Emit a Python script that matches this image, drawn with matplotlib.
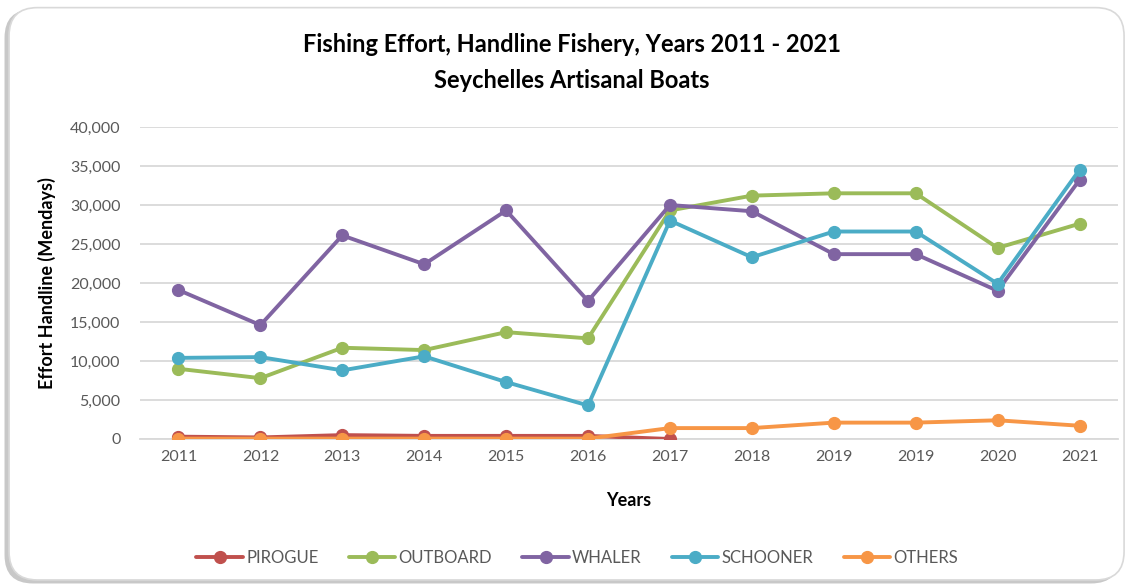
import numpy as np
import matplotlib
matplotlib.use("Agg")
import matplotlib.pyplot as plt
from matplotlib.patches import FancyBboxPatch
from matplotlib.ticker import FuncFormatter, MultipleLocator

plt.rcParams['font.family'] = ['Lato', 'DejaVu Sans']

years = ["2011", "2012", "2013", "2014", "2015", "2016", "2017", "2018", "2019", "2019", "2020", "2021"]
nan = np.nan
pirogue = [300, 200, 500, 400, 400, 400, 0, nan, nan, nan, nan, nan]
outboard = [9000, 7800, 11700, 11400, 13700, 12900, 29300, 31200, 31500, 31500, 24500, 27600]
whaler = [19100, 14600, 26100, 22400, 29300, 17700, 30000, 29200, 23700, 23700, 19000, 33200]
schooner = [10400, 10500, 8800, 10600, 7300, 4300, 28000, 23300, 26600, 26600, 19900, 34500]
others = [50, 50, 50, 50, 50, 50, 1400, 1400, 2100, 2100, 2400, 1700]

series = [("PIROGUE", pirogue, "#C0504D"),
          ("OUTBOARD", outboard, "#9BBB59"),
          ("WHALER", whaler, "#8064A2"),
          ("SCHOONER", schooner, "#4BACC6"),
          ("OTHERS", others, "#F79646")]

fig = plt.figure(figsize=(11.32, 5.87), dpi=100)
# rounded frame with shadow
shadow = FancyBboxPatch((0.004, 0.006), 0.985, 0.978, boxstyle="round,pad=0,rounding_size=0.025",
                        transform=fig.transFigure, facecolor="#C8C8C8", edgecolor="none",
                        mutation_aspect=1132/587, zorder=0)
frame = FancyBboxPatch((0.008, 0.012), 0.985, 0.975, boxstyle="round,pad=0,rounding_size=0.025",
                       transform=fig.transFigure, facecolor="white", edgecolor="#D9D9D9",
                       linewidth=1.2, mutation_aspect=1132/587, zorder=0.5)
fig.patches.extend([shadow, frame])

ax = fig.add_axes([140/1132, 1-439/587, (1118-140)/1132, (439-127)/587])
ax.set_zorder(2)
ax.set_facecolor("none")
x = np.arange(len(years))
for name, vals, col in series:
    ax.plot(x, vals, color=col, linewidth=2.8, marker="o", markersize=8.5,
            label=name, solid_capstyle="round", zorder=3)

ax.set_xlim(-0.47, len(years) - 0.53)
ax.set_ylim(0, 40000)
ax.yaxis.set_major_locator(MultipleLocator(5000))
ax.yaxis.set_major_formatter(FuncFormatter(lambda v, p: f"{int(v):,}"))
ax.set_xticks(x)
ax.set_xticklabels(years)
ax.grid(axis="y", color="#D9D9D9", linewidth=1.3)
ax.set_axisbelow(True)
for s in ["top", "right", "left"]:
    ax.spines[s].set_visible(False)
ax.spines["bottom"].set_color("#D9D9D9")
ax.spines["bottom"].set_linewidth(1.3)
ax.tick_params(axis="both", length=0, colors="#595959", labelsize=11.5, pad=8)
ax.tick_params(axis="y", pad=14)

ax.set_xlabel("Years", fontsize=13, fontweight="bold", color="black", labelpad=20)
ax.set_ylabel("Effort Handline (Mendays)", fontsize=13, fontweight="bold", color="black", labelpad=10)

fig.text(0.505, 1-45/587, "Fishing Effort, Handline Fishery, Years 2011 - 2021",
         ha="center", va="center", fontsize=17, fontweight="bold", zorder=3)
fig.text(0.505, 1-80/587, "Seychelles Artisanal Boats",
         ha="center", va="center", fontsize=17, fontweight="bold", zorder=3)

leg = fig.legend(loc="center", bbox_to_anchor=(0.51, 1-558/587), ncol=5, frameon=False,
                 fontsize=12, handlelength=2.8, columnspacing=1.8, handletextpad=0.2,
                 markerscale=1.0)
leg.set_zorder(3)
for t in leg.get_texts():
    t.set_color("#595959")

fig.savefig("out.png", dpi=100)
